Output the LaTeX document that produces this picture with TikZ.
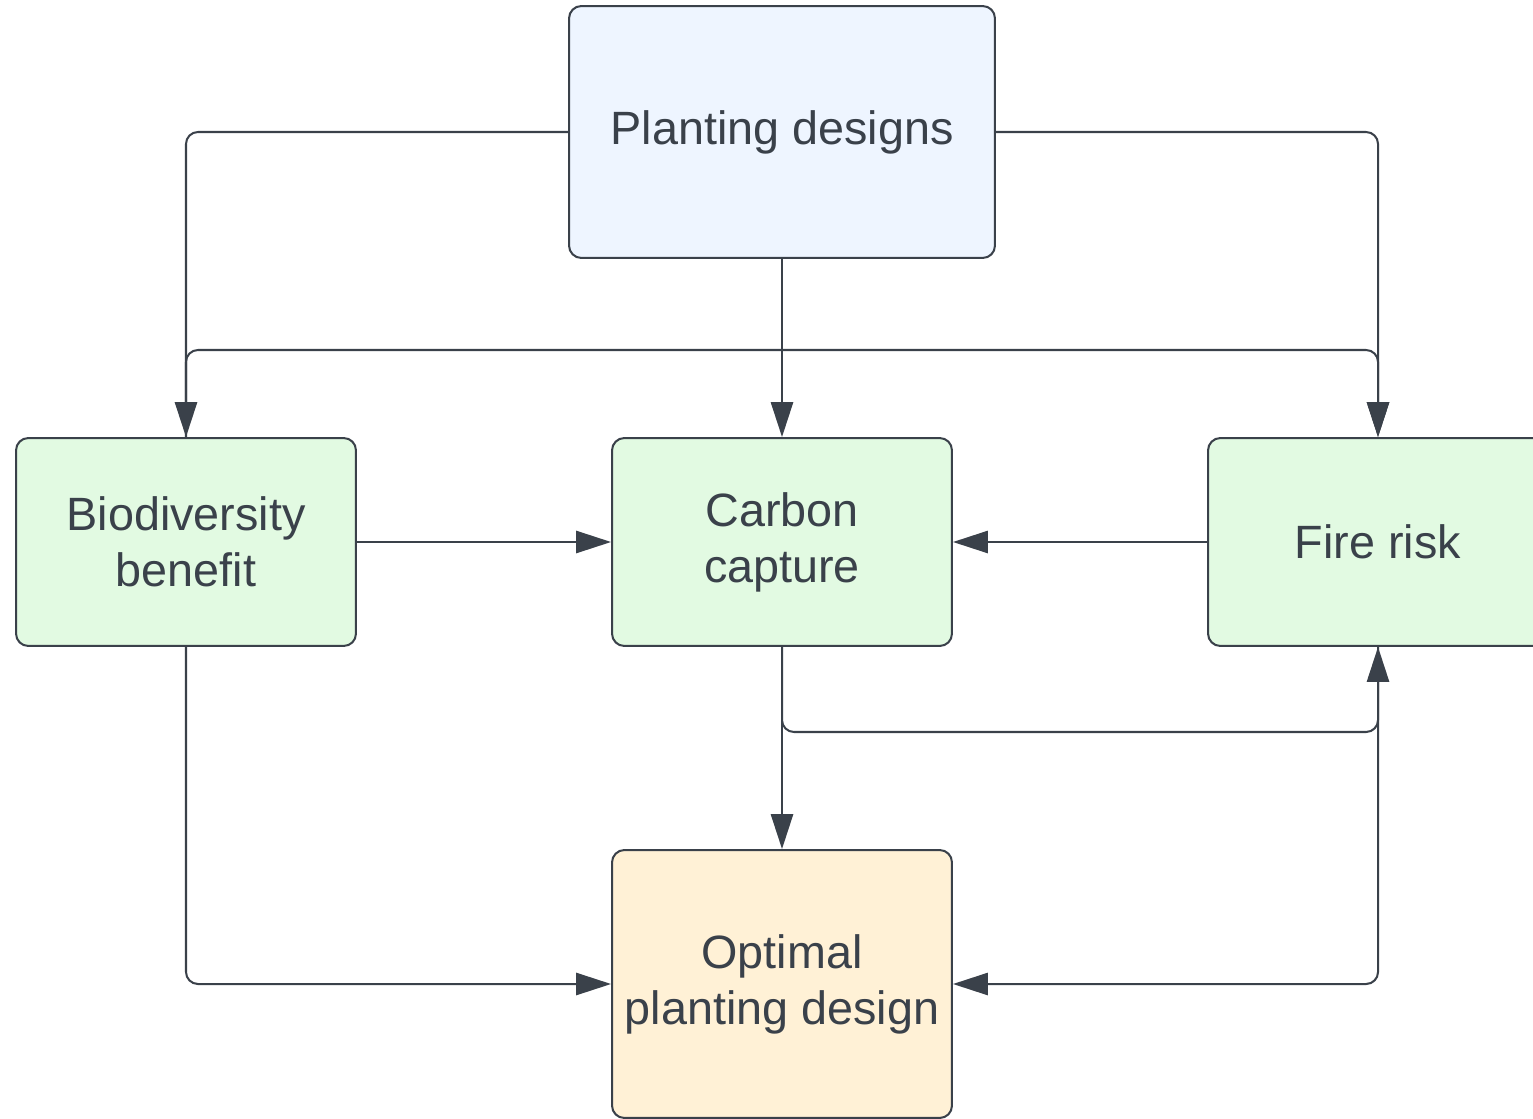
\documentclass[tikz,border=0pt]{standalone}
\usepackage{fontspec}
\setmainfont{Liberation Sans}
\usetikzlibrary{arrows.meta}
\definecolor{flowline}{HTML}{3A414A}
\definecolor{designfill}{HTML}{EEF5FF}
\definecolor{metricfill}{HTML}{E2FAE2}
\definecolor{resultfill}{HTML}{FFF1D6}

\begin{document}
\begin{tikzpicture}[
  x={(0.02cm,0cm)},
  y={(0cm,-0.02cm)},
  line join=round,
  box/.style={draw=flowline,line width=1.15pt,rounded corners=7pt,
    text=flowline,align=center,inner sep=0pt,
    font=\fontsize{26.6}{31.8}\selectfont},
  metric/.style={box,fill=metricfill,minimum width=6.8cm,minimum height=4.16cm},
  link/.style={draw=flowline,line width=1.15pt,rounded corners=6.8pt,
    -{Triangle[length=19.8pt,width=12.6pt]}}
]
  \path[use as bounding box,clip] (0,0) rectangle (1533,1118);

  % Source, the three measures and the result.
  \node[box,fill=designfill,minimum width=8.52cm,minimum height=5.04cm] (designs) at (782,132) {Planting designs};
  \node[metric] (biodiv) at (186,542) {Biodiversity\\benefit};
  \node[metric] (carbon) at (782,542) {Carbon\\capture};
  \node[metric] (fire) at (1378,542) {Fire risk};
  \node[box,fill=resultfill,minimum width=6.8cm,minimum height=5.36cm] (optimal) at (782,984) {Optimal\\planting design};

  % Helper points on the two horizontal buses.
  \coordinate (topbus) at (782,350);
  \coordinate (midbus) at (1080,732);

  % Design to measures.
  \draw[link] (designs.west) -| (biodiv.north);
  \draw[link] (designs.south) -- (carbon.north);
  \draw[link] (designs.east) -| (fire.north);
  \draw[link] (biodiv.north) |- (topbus) -| (fire.north);

  % Between the measures.
  \draw[link] (biodiv.east) -- (carbon.west);
  \draw[link] (fire.west) -- (carbon.east);
  \draw[link] (carbon.south) |- (midbus) -| (fire.south);

  % Measures to result.
  \draw[link] (carbon.south) -- (optimal.north);
  \draw[link] (biodiv.south) |- (optimal.west);
  \draw[link] (fire.south) |- (optimal.east);
\end{tikzpicture}
\end{document}
